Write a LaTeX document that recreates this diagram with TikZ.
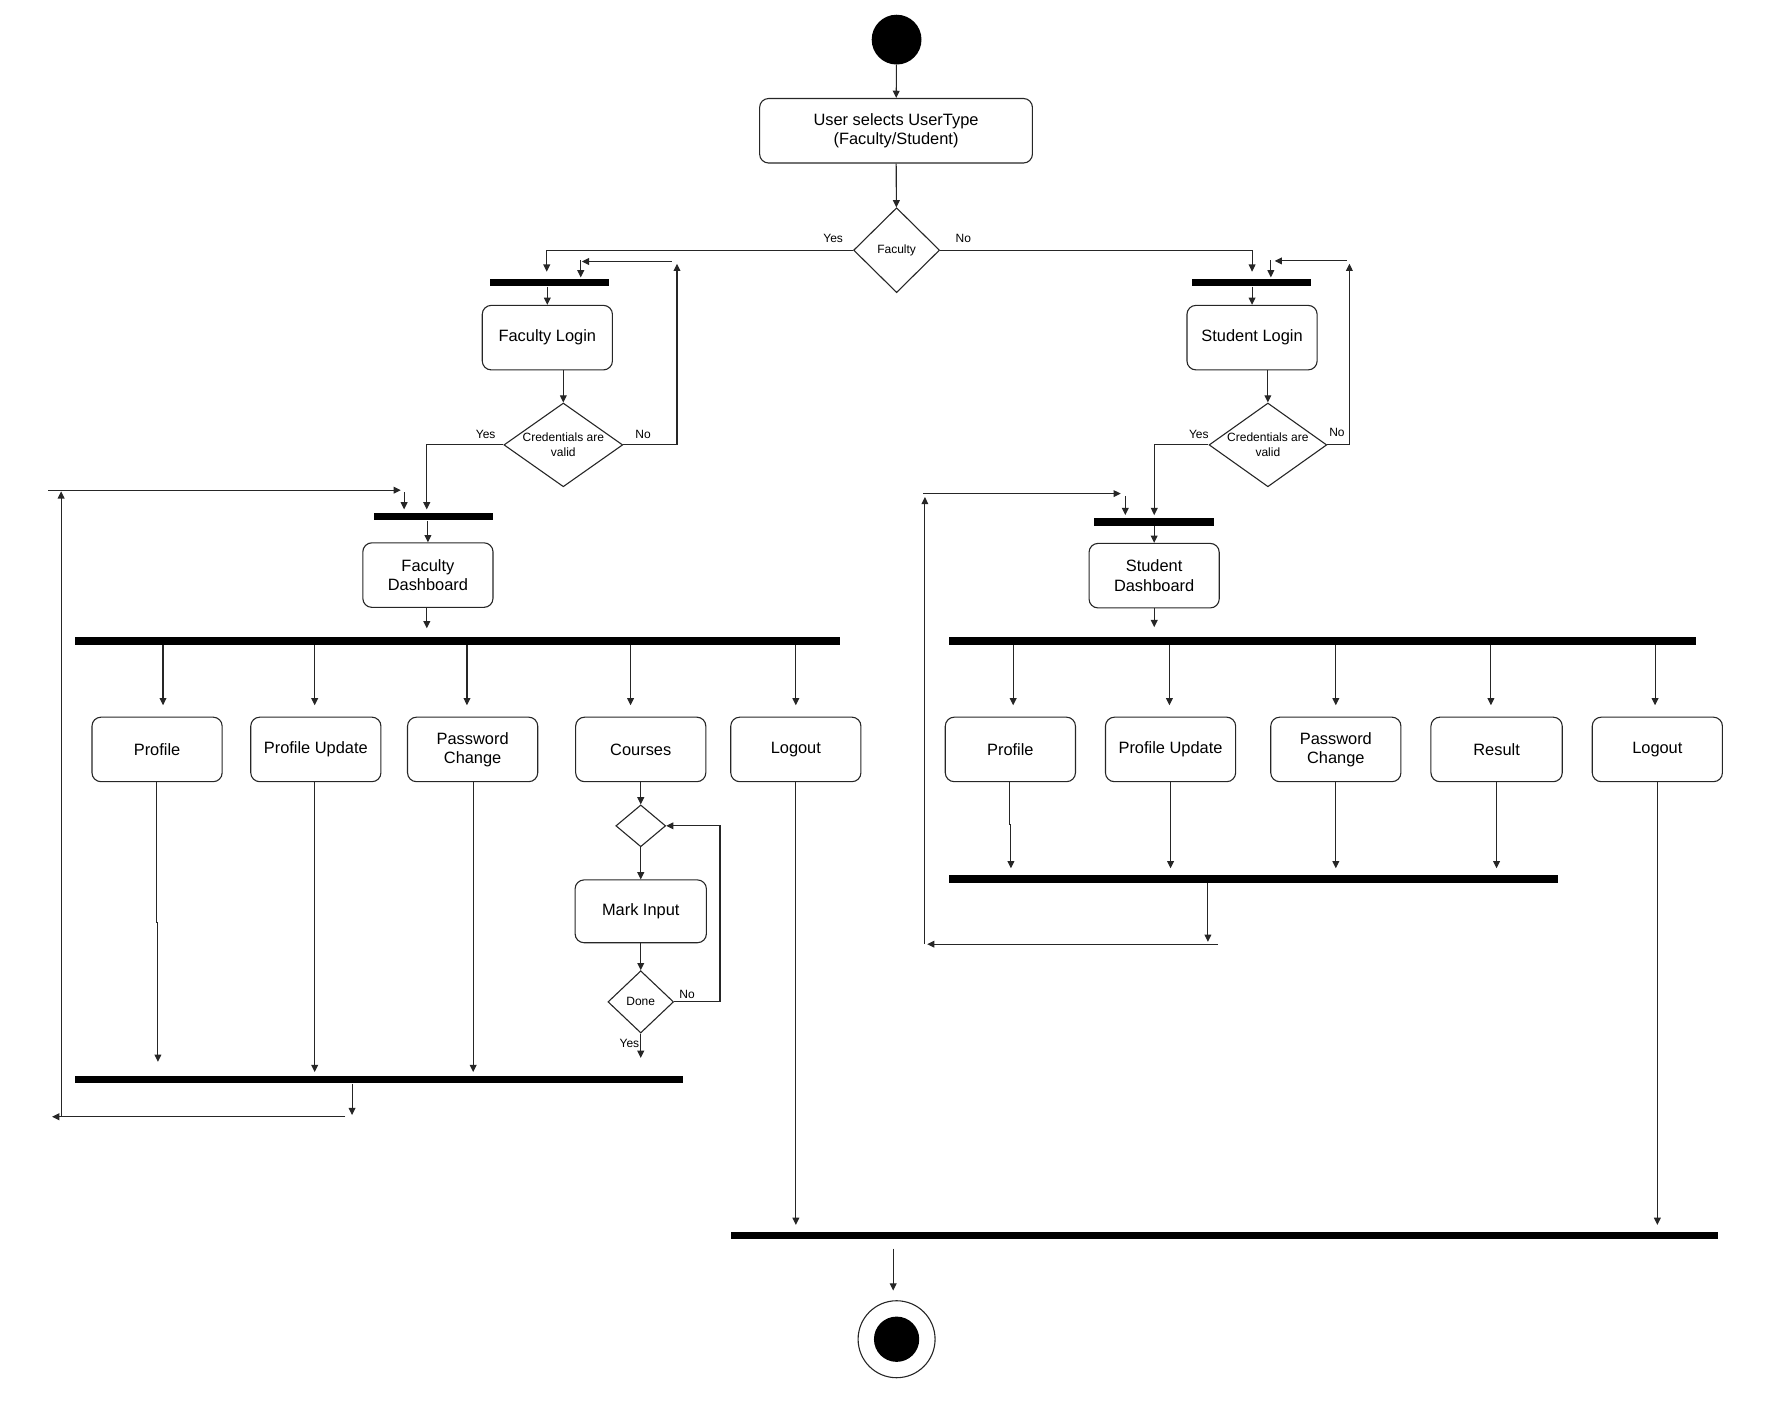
\documentclass[tikz,border=0pt]{standalone}
\usepackage{fontspec}
\setmainfont{Liberation Sans}
\usetikzlibrary{arrows.meta,shapes.geometric}
\newcommand{\myu}{0.566pt}
\tikzset{
  ln/.style={line width=0.55pt, draw=black!85},
  arr/.style={ln, -{Triangle[length=3.6pt,width=3.4pt]}},
  box/.style={draw=black!85, line width=0.55pt, rounded corners=4.5pt, align=center, inner sep=0pt,
    font=\fontsize{8.2}{9.6}\selectfont, minimum height=57*\myu, minimum width=115*\myu},
  dia/.style={draw=black!85, line width=0.55pt, diamond, inner sep=0pt, aspect=1},
  bar/.style={fill=black, draw=none, inner sep=0pt, minimum height=6.5*\myu},
  lbl/.style={font=\fontsize{6}{7.4}\selectfont, inner sep=0pt, align=center},
}
\begin{document}
\begin{tikzpicture}[x=\myu,y=-\myu]
\useasboundingbox (0,0) rectangle (1560,1237);
% top
\node[circle, fill=black, minimum size=44*\myu, inner sep=0pt] (start) at (792,35) {};
\node[box, minimum width=241*\myu] (sel) at (791.5,115.5) {User selects UserType\\(Faculty/Student)};
\node[dia, minimum width=76*\myu, minimum height=75*\myu] (fac) at (792,221) {};
\node[lbl] (facT) at (fac) {Faculty};
\draw[arr] (start) -- (sel);
\draw[arr] (sel) -- (fac);
\node[lbl] (yes0) at (736,211) {Yes};
\node[lbl] (no0) at (851,211) {No};
% faculty branch
\node[bar, minimum width=105*\myu] (fbar1) at (485.5,249.6) {};
\coordinate (fy1) at (483,221);
\coordinate (fy2) at (483,240);
\draw[arr] (fac.west) -- (fy1) -- (fy2);
\node[box] (flogin) at (483.5,298.25) {Faculty Login};
\draw[arr] (fbar1.south -| flogin) -- (flogin.north);
\node[dia, minimum width=105*\myu, minimum height=74*\myu] (fcred) at (497.6,393) {};
\node[lbl] (fcredT) at (fcred) {Credentials are\\valid};
\draw[arr] (flogin.south -| fcred) -- (fcred.north);
\node[lbl] (fyes) at (429,384) {Yes};
\node[lbl] (fno) at (568,384) {No};
\coordinate (fn1) at (598,393);
\coordinate (fn2) at (598,233);
\draw[arr] (fcred.east) -- (fn1) -- (fn2);
\coordinate (fn3) at (593.5,231);
\coordinate (fn4) at (514,231);
\draw[arr] (fn3) -- (fn4);
\coordinate (fn5) at (513,230);
\coordinate (fn6) at (513,245);
\draw[arr] (fn5) -- (fn6);
\node[bar, minimum width=105*\myu] (fbar2) at (383,456.5) {};
\coordinate (fyy1) at (377,393);
\coordinate (fyy2) at (377,450);
\draw[arr] (fcred.west) -- (fyy1) -- (fyy2);
\node[box] (fdash) at (378,508) {Faculty\\Dashboard};
\draw[arr] (fbar2.south -| fdash) -- (fdash.north);
\node[bar, minimum width=676*\myu] (fbig) at (404,566.3) {};
\coordinate (fd1) at (377,555);
\draw[arr] (fdash.south -| fd1) -- (fd1);
% faculty children
\node[box] (fprof) at (138.75,662) {Profile};
\node[box] (fpu) at (279,662) {Profile Update};
\node[box] (fpc) at (417.5,662) {Password\\Change};
\node[box] (fcourses) at (566,662) {Courses};
\node[box] (flogout) at (703,662) {Logout};
\foreach \xx/\nm in {144/a,278/b,412.5/c,557/d,703/e}{
  \coordinate (ft\nm) at (\xx,623);
  \draw[arr] (fbig.south -| ft\nm) -- (ft\nm);
}
\node[bar, minimum width=537*\myu] (fend) at (334.5,953.5) {};
\coordinate (fp0) at (138.5,815);
\coordinate (fp0b) at (139.5,815);
\coordinate (fp1) at (139.5,938);
\draw[arr] (fprof.south -| fp0) -- (fp0) -- (fp0b) -- (fp1);
\coordinate (fp2) at (278,947);
\draw[arr] (fpu.south -| fp2) -- (fp2);
\coordinate (fp3) at (418,947);
\draw[arr] (fpc.south -| fp3) -- (fp3);
\node[dia, minimum width=44*\myu, minimum height=37*\myu] (cdia) at (566,729.5) {};
\draw[arr] (fcourses.south) -- (cdia.north);
\node[box, minimum height=55.5*\myu, minimum width=116*\myu] (mark) at (566,805) {Mark Input};
\draw[arr] (cdia.south) -- (mark.north);
\node[dia, minimum width=58*\myu, minimum height=55*\myu] (done) at (566,885) {};
\node[lbl] (doneT) at (done) {Done};
\draw[arr] (mark.south) -- (done.north);
\coordinate (dn1) at (636,885);
\coordinate (dn2) at (636,729.5);
\draw[arr] (done.east) -- (dn1) -- (dn2) -- (cdia.east);
\node[lbl] (dno) at (607,878) {No};
\coordinate (dy1) at (566,934.5);
\draw[arr] (done.south) -- (dy1);
\node[lbl] (dyes) at (556,922) {Yes};
% faculty loop back
\coordinate (fl0) at (311,985);
\draw[arr] (fend.south -| fl0) -- (fl0);
\coordinate (fl1) at (305,986.5);
\coordinate (fl2) at (46,986.5);
\draw[arr] (fl1) -- (fl2);
\coordinate (fl3) at (54,986.5);
\coordinate (fl4) at (54,434);
\draw[arr] (fl3) -- (fl4);
\coordinate (fl5) at (42.6,433);
\coordinate (fl6) at (354,433);
\draw[arr] (fl5) -- (fl6);
\coordinate (fl7) at (357,435);
\coordinate (fl8) at (357,450);
\draw[arr] (fl7) -- (fl8);
% student branch
\node[bar, minimum width=105*\myu] (sbar1) at (1105.5,249.6) {};
\coordinate (sn1) at (1106,221);
\coordinate (sn2) at (1106,240);
\draw[arr] (fac.east) -- (sn1) -- (sn2);
\node[box] (slogin) at (1106,298.25) {Student Login};
\draw[arr] (sbar1.south -| slogin) -- (slogin.north);
\node[dia, minimum width=104*\myu, minimum height=74*\myu] (scred) at (1120,393) {};
\node[lbl] (scredT) at (scred) {Credentials are\\valid};
\draw[arr] (slogin.south -| scred) -- (scred.north);
\node[lbl] (syes) at (1059,384) {Yes};
\node[lbl] (sno) at (1181,382) {No};
\coordinate (sx1) at (1192,393);
\coordinate (sx2) at (1192,233);
\draw[arr] (scred.east) -- (sx1) -- (sx2);
\coordinate (sx3) at (1190,230.5);
\coordinate (sx4) at (1126,230.5);
\draw[arr] (sx3) -- (sx4);
\coordinate (sx5) at (1122.6,230);
\coordinate (sx6) at (1122.6,245);
\draw[arr] (sx5) -- (sx6);
\node[bar, minimum width=106*\myu] (sbar2) at (1019,461) {};
\coordinate (sy1) at (1019.6,393);
\coordinate (sy2) at (1019.6,455);
\draw[arr] (scred.west) -- (sy1) -- (sy2);
\node[box] (sdash) at (1019.5,508.5) {Student\\Dashboard};
\draw[arr] (sbar2.south -| sdash) -- (sdash.north);
\node[bar, minimum width=660*\myu] (sbig) at (1168,566.3) {};
\coordinate (sd1) at (1019.6,554);
\draw[arr] (sdash.south -| sd1) -- (sd1);
% student children
\node[box] (sprof) at (892.5,662) {Profile};
\node[box] (spu) at (1034,662) {Profile Update};
\node[box] (spc) at (1180,662) {Password\\Change};
\node[box, minimum width=116*\myu] (sres) at (1322,662) {Result};
\node[box] (slogout) at (1464,662) {Logout};
\foreach \xx/\nm in {895/a,1033/b,1180/c,1317/d,1462/e}{
  \coordinate (st\nm) at (\xx,623);
  \draw[arr] (sbig.south -| st\nm) -- (st\nm);
}
\node[bar, minimum width=538*\myu] (send) at (1107,776.5) {};
\coordinate (sp0) at (892,728);
\coordinate (sp0b) at (893,728);
\coordinate (sp1) at (893,767);
\draw[arr] (sprof.south -| sp0) -- (sp0) -- (sp0b) -- (sp1);
\coordinate (sp2) at (1034,767);
\draw[arr] (spu.south -| sp2) -- (sp2);
\coordinate (sp3) at (1180,767);
\draw[arr] (spc.south -| sp3) -- (sp3);
\coordinate (sp4) at (1322,767);
\draw[arr] (sres.south -| sp4) -- (sp4);
% student loop back
\coordinate (sl0) at (1067,832);
\draw[arr] (send.south -| sl0) -- (sl0);
\coordinate (sl1) at (1076,834);
\coordinate (sl2) at (819,834);
\draw[arr] (sl1) -- (sl2);
\coordinate (sl3) at (817,834);
\coordinate (sl4) at (817,439);
\draw[arr] (sl3) -- (sl4);
\coordinate (sl5) at (815.5,436);
\coordinate (sl6) at (990,436);
\draw[arr] (sl5) -- (sl6);
\coordinate (sl7) at (994,438);
\coordinate (sl8) at (994,455);
\draw[arr] (sl7) -- (sl8);
% end
\node[bar, minimum width=872*\myu] (fin) at (1082,1091.5) {};
\coordinate (lo1) at (703,1082);
\draw[arr] (flogout.south -| lo1) -- (lo1);
\coordinate (lo2) at (1464,1082);
\draw[arr] (slogout.south -| lo2) -- (lo2);
\node[circle, draw=black!85, line width=0.55pt, minimum size=68*\myu, inner sep=0pt] (endo) at (792,1183) {};
\node[circle, fill=black, minimum size=40*\myu, inner sep=0pt] (endi) at (792,1183) {};
\coordinate (e1) at (789,1103);
\coordinate (e2) at (789,1140);
\draw[arr] (e1) -- (e2);
\end{tikzpicture}
\end{document}
